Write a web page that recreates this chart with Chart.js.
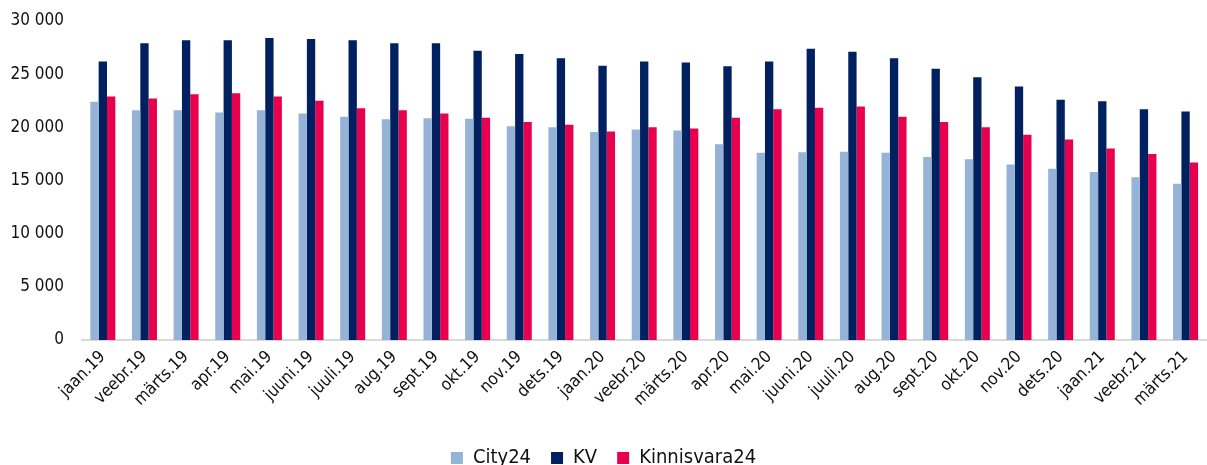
<!DOCTYPE html>
<html>
<head>
<meta charset="utf-8">
<script src="https://cdn.jsdelivr.net/npm/chart.js@4"></script>
<style>
  html, body { margin: 0; padding: 0; background: #fff; }
  #wrap { width: 1207px; height: 465px; }
</style>
</head>
<body>
<div id="wrap"><canvas id="myChart"></canvas></div>
<script>
const months = ['jaan.19', 'veebr.19', 'märts.19', 'apr.19', 'mai.19', 'juuni.19', 'juuli.19', 'aug.19', 'sept.19',
  'okt.19', 'nov.19', 'dets.19', 'jaan.20', 'veebr.20', 'märts.20', 'apr.20', 'mai.20', 'juuni.20', 'juuli.20',
  'aug.20', 'sept.20', 'okt.20', 'nov.20', 'dets.20', 'jaan.21', 'veebr.21', 'märts.21'];

const city24 = [22400, 21600, 21600, 21400, 21600, 21300, 21000, 20750, 20850, 20800, 20100, 20000, 19550,
  19800, 19700, 18400, 17600, 17650, 17700, 17600, 17200, 17000, 16500, 16100, 15800, 15300, 14700];
const kv = [26200, 27900, 28200, 28200, 28400, 28300, 28200, 27900, 27900, 27200, 26900, 26500, 25800,
  26200, 26100, 25750, 26200, 27400, 27100, 26500, 25500, 24700, 23850, 22600, 22450, 21700, 21500];
const kinnisvara24 = [22900, 22700, 23100, 23200, 22900, 22500, 21800, 21600, 21300, 20900, 20500, 20250, 19600,
  20000, 19900, 20900, 21700, 21850, 21950, 21000, 20500, 20000, 19300, 18850, 18000, 17500, 16700];

const yTicks = [0, 5000, 10000, 15000, 20000, 25000, 30000];

const font = "'DejaVu Sans Condensed', 'DejaVu Sans', sans-serif";

function generateChart() {
  return new Chart(document.getElementById('myChart'), {
    type: 'bar',
    data: {
      labels: months,
      datasets: [
        { label: 'City24', data: city24, backgroundColor: '#95b3d7' },
        { label: 'KV', data: kv, backgroundColor: '#002060' },
        { label: 'Kinnisvara24', data: kinnisvara24, backgroundColor: '#e8004f' }
      ]
    },
    options: {
      responsive: true,
      maintainAspectRatio: false,
      animation: false,
      datasets: { bar: { categoryPercentage: 0.6, barPercentage: 1 } },
      // negative bottom padding lets the legend sit low, like the original
      layout: { padding: { top: 21, right: 0, left: 0, bottom: -13 } },
      scales: {
        x: {
          grid: { display: false, drawTicks: false },
          border: { color: '#d9d9d9', width: 2 },
          ticks: { color: '#111', font: { family: font, size: 17 }, minRotation: 45, maxRotation: 45, padding: 7 },
          afterFit: s => { s.height = 88; }
        },
        y: {
          min: 0,
          max: 30000,
          grid: { display: false, drawTicks: false },
          border: { display: false },
          afterBuildTicks: s => { s.ticks = yTicks.map(v => ({ value: v })); },
          ticks: {
            color: '#111',
            font: { family: font, size: 17 },
            padding: 18,
            callback: v => v.toLocaleString('en-US').replace(/,/g, ' ')
          },
          afterFit: s => { s.width = 82; s.paddingTop = 0; s.paddingBottom = 0; }
        }
      },
      plugins: {
        legend: {
          position: 'bottom',
          labels: { color: '#111', font: { family: font, size: 20 }, boxWidth: 12, boxHeight: 12, padding: 20 }
        },
        tooltip: { enabled: false }
      }
    }
  });
}

generateChart();
</script>
</body>
</html>
